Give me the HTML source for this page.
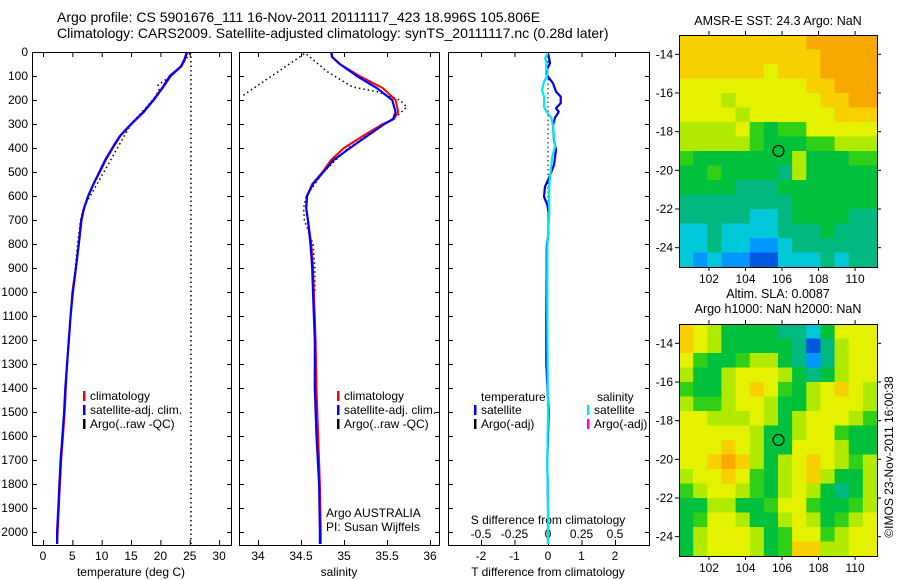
<!DOCTYPE html>
<html><head><meta charset="utf-8"><style>
html,body{margin:0;padding:0;background:#fff;}
svg{display:block;font-family:"Liberation Sans",sans-serif;}
text{font-size:12px;fill:#000;}
</style></head><body>
<svg id="fig" width="900" height="580" viewBox="0 0 900 580">
<text x="57" y="22" style="font-size:14px">Argo profile: CS 5901676_111 16-Nov-2011 20111117_423 18.996S 105.806E</text>
<text x="57" y="38" style="font-size:14px">Climatology: CARS2009. Satellite-adjusted climatology: synTS_20111117.nc (0.28d later)</text>
</svg>
<script>
// ---------- data ----------
const depthT = [0,30,60,100,150,200,250,300,350,400,450,500,550,600,650,700,800,900,1000,1100,1200,1300,1400,1500,1600,1700,1800,1900,2000,2050];
const tempClim = [24.6,24.2,23.6,21.8,20.4,18.9,17.2,15.1,13.2,11.9,10.7,9.7,8.6,7.7,7.0,6.6,6.1,5.6,5.0,4.7,4.4,4.1,3.9,3.7,3.4,3.1,2.9,2.7,2.5,2.4];
const tempSat  = [24.5,24.1,23.5,21.6,20.3,18.8,17.1,15.0,13.1,11.8,10.6,9.6,8.6,7.7,7.0,6.5,6.1,5.6,5.1,4.7,4.4,4.1,3.8,3.6,3.3,3.0,2.8,2.6,2.4,2.4];
const depthArgoT = [5,60,112,137,160,200,300,650,700,800,900,1000];
const tempArgo   = [25.0,23.6,21.1,19.6,19.8,18.7,15.0,6.9,6.4,5.9,5.5,5.0];
const sstLine = 25.2;
const depthS = [0,20,50,100,150,200,250,280,300,350,400,450,500,550,600,650,700,800,900,1000,1200,1400,1600,1800,2000,2050];
const salClim = [34.86,34.86,34.95,35.18,35.45,35.60,35.63,35.58,35.45,35.22,35.00,34.85,34.75,34.63,34.57,34.56,34.58,34.62,34.64,34.65,34.67,34.68,34.70,34.72,34.73,34.73];
const salSat  = [34.85,34.86,34.95,35.15,35.38,35.56,35.60,35.57,35.47,35.27,35.07,34.88,34.76,34.64,34.57,34.56,34.58,34.61,34.63,34.64,34.66,34.66,34.68,34.71,34.72,34.72];
const depthArgoS = [180,5,83,146,167,200,229,262,300,400,500,600,650,700,800,900,1000];
const salArgo    = [33.83,34.55,34.81,35.10,35.41,35.65,35.73,35.63,35.47,35.05,34.76,34.56,34.53,34.54,34.64,34.66,34.66];
const depthDT = [8,47,75,96,130,165,186,213,234,249,274,304,367,408,471,525,561,603,637,671,755,812,921,1100,1300,1500,1700,1900,2050];
const tDiff   = [0.01,0.06,-0.04,-0.04,0.15,0.24,0.38,0.38,0.24,0.32,0.21,0.15,0.18,0.24,0.18,0.03,-0.09,-0.12,-0.02,0.02,0.01,-0.04,-0.04,-0.05,-0.05,0.02,-0.02,0.0,0.0];
const depthDS = [8,25,47,61,82,103,124,158,186,207,228,249,274,311,353,394,436,505,561,671,755,812,921,1100,1300,1500,1700,1900,2050];
const sDiff   = [-0.003,-0.022,-0.008,-0.015,-0.003,-0.01,-0.03,-0.045,-0.03,-0.028,-0.03,-0.01,0.025,0.038,0.045,0.052,0.032,0.018,0.008,0.01,0.001,-0.005,-0.005,-0.005,-0.003,0.0,-0.005,0.0,0.0];
const depthTicks = [0,100,200,300,400,500,600,700,800,900,1000,1100,1200,1300,1400,1500,1600,1700,1800,1900,2000];
const tempTicks = [0,5,10,15,20,25,30];
const salTicks = [34,34.5,35,35.5,36];
const dTTicks = [-2,-1,0,1,2];
const dSTicks = [-0.5,-0.25,0,0.25,0.5];
const dSTickLabels = ["-0.5","-0.25","0","0.25","0.5"];
const lonTicks = [102,104,106,108,110];
const latTicks = [-14,-16,-18,-20,-22,-24];
const argoLon = 105.806, argoLat = -18.996;
const sstGrid = [
"88888888899999","88888888889999","88888878889999","77777777788999",
"77767777778899","77776777777888","66667545577777","66666544455666",
"54444444644455","44544443644444","44443334444444","33333333444444",
"33333223444433","22322223334333","22322112333333","21211002223233"];
const slaGrid = [
"87644443324777","87644444303677","75445664313677","64467776434677",
"54467875467876","65567764467776","77666764677765","77777644677544",
"77787644777644","77898646787656","67787546786446","56776546764346",
"44664457754456","45776446764567","46777645775677","46777645886677"];
const palette = ["#0058e0","#0098ff","#00c8d8","#00b880","#00c03c","#30d018","#b0ea00","#e4f200","#f8d000","#f8a800"];

// ---------- helpers ----------
const NS="http://www.w3.org/2000/svg";
const svg=document.getElementById('fig');
function mk(tag,attrs,parent){const e=document.createElementNS(NS,tag);for(const k in attrs)e.setAttribute(k,attrs[k]);(parent||svg).appendChild(e);return e;}
function txt(x,y,s,anchor,parent){const t=mk('text',{x:x,y:y,'text-anchor':anchor||'start'},parent);t.textContent=s;return t;}

const TOP=52, BOT=545;
const yD = d => TOP + d*0.24;

function panel(name){
  const g=mk('g',{});
  
  
  return g;
}
function frame(g,x0,x1){
  const r=mk('rect',{x:x0+0.5,y:TOP+0.5,width:x1-x0,height:BOT-TOP,fill:'none',stroke:'#000','stroke-width':1},g);
  
  
  depthTicks.forEach(d=>{
    mk('line',{x1:x0,x2:x0+5,y1:yD(d)+0.5,y2:yD(d)+0.5,stroke:'#000'},g);
    mk('line',{x1:x1-4,x2:x1+1,y1:yD(d)+0.5,y2:yD(d)+0.5,stroke:'#000'},g);
  });
}
function xticks(g,vals,fx,labels,ly){
  vals.forEach((v,i)=>{
    const x=fx(v)+0.5;
    mk('line',{x1:x,x2:x,y1:BOT-5,y2:BOT,stroke:'#000'},g);
    mk('line',{x1:x,x2:x,y1:TOP,y2:TOP+5,stroke:'#000'},g);
    const t=txt(fx(v),ly,labels?labels[i]:String(v),'middle',g);
    
    
  });
}
function path(g,xs,ds,fx,color,w,dash,name){
  let p='';
  xs.forEach((v,i)=>{p+=(i?'L':'M')+fx(v).toFixed(1)+','+yD(ds[i]).toFixed(1);});
  const attrs={d:p,fill:'none',stroke:color,'stroke-width':w,'stroke-linejoin':'round'};
  if(dash)attrs['stroke-dasharray']=dash;
  const e=mk('path',attrs,g);
  
  
  return e;
}
function legend(g,x,y,color,label,name){
  mk('rect',{x:x-1,y:y-7,width:2.5,height:10,fill:color},g);
  const t=txt(x+6,y+2,label,'start',g);
  
  
}

// ---------- panel 1: temperature ----------
const fxT = v => 43 + v*5.87;
const g1=panel('temperature-panel');
frame(g1,32,231);
depthTicks.forEach(d=>{const t=txt(28,yD(d)+4,String(d),'end',g1);
  
  });
xticks(g1,tempTicks,fxT,null,560);
const xl1=txt(131,576,'temperature (deg C)','middle',g1);


const sl=mk('line',{x1:fxT(sstLine),x2:fxT(sstLine),y1:TOP,y2:BOT,stroke:'#000','stroke-width':1.5,'stroke-dasharray':'1.5,3'},g1);


path(g1,tempArgo,depthArgoT,fxT,'#000',1.5,'1.5,3','argo-temperature-line');
path(g1,tempClim,depthT,fxT,'#ff0000',2,null,'climatology-temperature-line');
path(g1,tempSat,depthT,fxT,'#0000ff',2.2,null,'satellite-temperature-line');
legend(g1,84,398,'#ff0000','climatology','legend-climatology');
legend(g1,84,412,'#0000ff','satellite-adj. clim.','legend-satellite');
legend(g1,84,426,'#000','Argo(..raw -QC)','legend-argo');

// ---------- panel 2: salinity ----------
const fxS = v => 258 + (v-34)*86;
const g2=panel('salinity-panel');
frame(g2,239,439);
xticks(g2,salTicks,fxS,null,560);
const xl2=txt(339,576,'salinity','middle',g2);


path(g2,salArgo,depthArgoS,fxS,'#000',1.5,'1.5,3','argo-salinity-line');
path(g2,salClim,depthS,fxS,'#ff0000',2,null,'climatology-salinity-line');
path(g2,salSat,depthS,fxS,'#0000ff',2.2,null,'satellite-salinity-line');
legend(g2,338,398,'#ff0000','climatology','legend-climatology-s');
legend(g2,338,412,'#0000ff','satellite-adj. clim.','legend-satellite-s');
legend(g2,338,426,'#000','Argo(..raw -QC)','legend-argo-s');
const pi1=txt(326,517,'Argo AUSTRALIA','start',g2);


const pi2=txt(326,531,'PI: Susan Wijffels','start',g2);



// ---------- panel 3: differences ----------
const fxDT = v => 548 + v*33.5;
const fxDS = v => 548 + v*134;
const g3=panel('difference-panel');
frame(g3,448,649);
xticks(g3,dTTicks,fxDT,null,560);
dSTicks.forEach((v,i)=>{const t=txt(fxDS(v),538,dSTickLabels[i],'middle',g3);
  
  });
const xl3=txt(548,576,'T difference from climatology','middle',g3);


const xl4=txt(548,524,'S difference from climatology','middle',g3);


const zl=mk('line',{x1:548,x2:548,y1:TOP,y2:yD(1100),stroke:'#000','stroke-width':1,'stroke-dasharray':'1.5,3'},g3);


path(g3,tDiff,depthDT,fxDT,'#0000ee',2.2,null,'temperature-difference-line');
path(g3,sDiff,depthDS,fxDS,'#00e8f0',2.2,null,'salinity-difference-line');
const lt=txt(481,401,'temperature','start',g3);


legend(g3,475,412,'#0000ee','satellite','legend-t-satellite');
legend(g3,475,426,'#000','Argo(-adj)','legend-t-argo');
const ls=txt(597,401,'salinity','start',g3);


legend(g3,588,412,'#00e8f0','satellite','legend-s-satellite');
legend(g3,588,426,'#ff00ff','Argo(-adj)','legend-s-argo');

// ---------- maps ----------
const MX0=679, MX1=877, LON0=100.36, LON1=111.2, LAT0=-13, LAT1=-25;
function map(name,top,grid,title1,title2){
  const g=mk('g',{});
  
  
  const bot=top+232;
  const fx=lon=>MX0+(lon-LON0)/(LON1-LON0)*(MX1-MX0);
  const fy=lat=>top+(lat-LAT0)/(LAT1-LAT0)*(bot-top);
  const rows=grid.length, cols=grid[0].length;
  const dlat=(LAT1-LAT0)/rows, dlon=(LON1-LON0)/cols;
  grid.forEach((row,r)=>{
    for(let c=0;c<cols;c++){
      const x=fx(LON0+c*dlon), y=fy(LAT0+r*dlat);
      const cell=mk('rect',{x:x,y:y,width:fx(LON0+(c+1)*dlon)-x+0.6,height:fy(LAT0+(r+1)*dlat)-y+0.6,fill:palette[+row[c]]},g);
      
      
    }
  });
  const fr=mk('rect',{x:MX0+0.5,y:top+0.5,width:MX1-MX0,height:bot-top,fill:'none',stroke:'#000'},g);
  
  
  lonTicks.forEach(l=>{const x=fx(l);
    mk('line',{x1:x,x2:x,y1:top-4,y2:top,stroke:'#000'},g);
    mk('line',{x1:x,x2:x,y1:bot,y2:bot+4,stroke:'#000'},g);
    const t=txt(x,bot+16,String(l),'middle',g);
    
    });
  latTicks.forEach(l=>{const y=fy(l);
    mk('line',{x1:MX0-4,x2:MX0,y1:y,y2:y,stroke:'#000'},g);
    mk('line',{x1:MX1,x2:MX1+4,y1:y,y2:y,stroke:'#000'},g);
    const t=txt(MX0-6,y+4,String(l),'end',g);
    
    });
  const c=mk('circle',{cx:fx(argoLon),cy:fy(argoLat),r:5.5,fill:'none',stroke:'#000','stroke-width':1.2},g);
  
  
  if(title2){
    const t1=txt(778,top-26,title1,'middle',g);
    
    
    t1.setAttribute('style','font-size:12.5px');
    const t2=txt(778,top-11,title2,'middle',g);
    
    
    t2.setAttribute('style','font-size:12.5px');
  } else {
    const t1=txt(778,top-10,title1,'middle',g);
    
    
    t1.setAttribute('style','font-size:12.5px');
  }
}
map('sst-map',35,sstGrid,'AMSR-E SST: 24.3 Argo: NaN');
map('sla-map',324,slaGrid,'Altim. SLA: 0.0087','Argo h1000: NaN h2000: NaN');

const cp=txt(0,0,'©IMOS 23-Nov-2011 16:00:38','middle');
cp.setAttribute('transform','translate(893,457) rotate(-90)');


</script>
</body></html>
